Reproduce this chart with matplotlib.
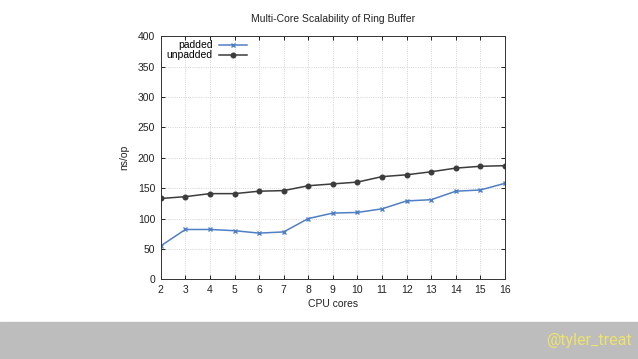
import matplotlib
matplotlib.use("Agg")
import matplotlib.pyplot as plt

plt.rcParams['font.family'] = ['Liberation Sans', 'DejaVu Sans']

cores = [2, 3, 4, 5, 6, 7, 8, 9, 10, 11, 12, 13, 14, 15, 16]
padded = [55, 82, 82, 80, 76, 78, 100, 109, 110, 116, 129, 131, 145, 147, 158]
unpadded = [133, 136, 141, 141, 145, 146, 154, 157, 160, 169, 172, 177, 183, 186, 187]

fig = plt.figure(figsize=(6.38, 3.59), dpi=100)
ax = fig.add_axes([0.252, 0.222, 0.5395, 0.677])

ax.plot(cores, padded, color='#4f7fc4', marker='x', markersize=3.5, markeredgewidth=1.0,
        linewidth=1.1, label='padded')
ax.plot(cores, unpadded, color='#3c3c3c', marker='o', markersize=3.3, linewidth=1.1,
        label='unpadded')

ax.set_xlim(2, 16)
ax.set_ylim(0, 400)
ax.set_xticks(cores)
ax.set_yticks(range(0, 401, 50))
ax.tick_params(direction='in', top=True, right=True, labelsize=7.5, length=3, width=0.6,
               pad=4, labelcolor='#222222')
ax.grid(True, linestyle=':', color='#c8c8c8', linewidth=0.6)
for s in ax.spines.values():
    s.set_linewidth(0.7)
    s.set_color('#333333')

ax.set_xlabel('CPU cores', fontsize=7.5, labelpad=3, color='#222222')
ax.set_ylabel('ns/op', fontsize=7.5, labelpad=6, color='#222222')
ax.set_title('Multi-Core Scalability of Ring Buffer', fontsize=7.5, pad=10, color='#222222')

ax.legend(loc='upper left', frameon=False, markerfirst=False, fontsize=7.5,
          handlelength=2.7, handletextpad=0.6, borderaxespad=0.0, labelspacing=0.0,
          bbox_to_anchor=(0.005, 1.0))

# grey footer band with handle
fig.patches.append(plt.Rectangle((0, 0), 1, 37 / 359, transform=fig.transFigure,
                                 color='#bdbdbd', zorder=0))
fig.text(0.99, 0.052, '@tyler_treat', color='#eee36a', fontsize=11.5,
         ha='right', va='center', family=['Roboto', 'DejaVu Sans'])

fig.savefig('out.png', dpi=100)
